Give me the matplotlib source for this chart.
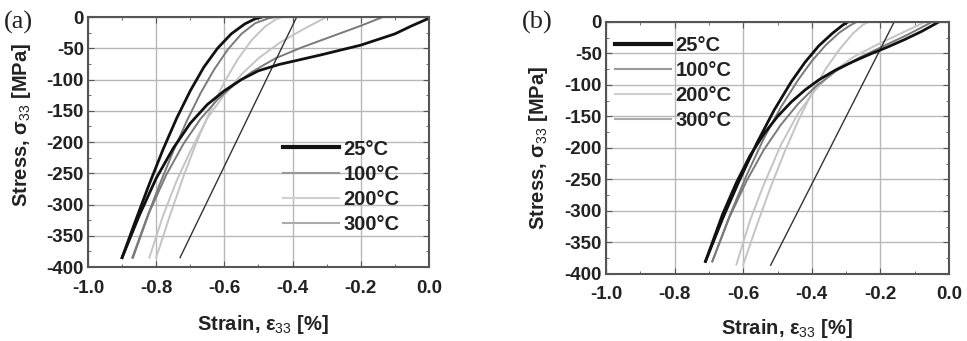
import matplotlib
matplotlib.use("Agg")
import matplotlib.pyplot as plt
from matplotlib.lines import Line2D
from matplotlib.ticker import MultipleLocator, FormatStrFormatter

plt.rcParams['font.family'] = ['Liberation Sans', 'DejaVu Sans']
plt.rcParams['mathtext.fontset'] = 'custom'
plt.rcParams['mathtext.rm'] = 'Liberation Sans'
plt.rcParams['mathtext.it'] = 'Liberation Sans'
plt.rcParams['axes.unicode_minus'] = False

temps = ['25°C', '100°C', '200°C', '300°C']

# ---- panel (a): strain [%], stress [MPa]
a25_load_x = [0.0, -0.05, -0.1, -0.2, -0.32, -0.44, -0.5, -0.55, -0.6, -0.65, -0.7, -0.75, -0.8, -0.85, -0.9]
a25_load_y = [-2, -14, -27, -45, -61, -76, -86, -100, -118, -140, -170, -210, -258, -318, -385]
a25_unl_x = [-0.9, -0.86, -0.82, -0.78, -0.74, -0.70, -0.66, -0.62, -0.58, -0.54, -0.51, -0.49]
a25_unl_y = [-385, -325, -267, -212, -162, -118, -80, -50, -27, -11, -3, 0]

a100_load_x = [-0.135, -0.2, -0.29, -0.37, -0.45, -0.52, -0.57, -0.62, -0.67, -0.72, -0.77, -0.82, -0.868]
a100_load_y = [0, -14, -32, -48, -66, -88, -108, -132, -163, -203, -252, -312, -385]
a100_unl_x = [-0.87, -0.83, -0.79, -0.75, -0.71, -0.67, -0.63, -0.59, -0.55, -0.51, -0.47, -0.45]
a100_unl_y = [-385, -325, -268, -215, -166, -122, -84, -52, -27, -10, -2, 0]

a200_load_x = [-0.30, -0.37, -0.44, -0.50, -0.55, -0.60, -0.65, -0.70, -0.74, -0.78, -0.82]
a200_load_y = [0, -20, -42, -66, -92, -124, -162, -215, -262, -318, -385]
a200_unl_x = [-0.80, -0.76, -0.72, -0.68, -0.64, -0.60, -0.56, -0.52, -0.48, -0.45, -0.43]
a200_unl_y = [-385, -318, -255, -198, -148, -104, -67, -37, -15, -4, 0]

a300_x = [-0.73, -0.388]
a300_y = [-385, 0]

# ---- panel (b)
b25_load_x = [-0.03, -0.08, -0.13, -0.18, -0.23, -0.28, -0.33, -0.38, -0.42, -0.46, -0.50, -0.54, -0.58, -0.62, -0.66, -0.71]
b25_load_y = [0, -15, -28, -40, -51, -63, -76, -92, -108, -127, -150, -178, -212, -255, -305, -380]
b25_unl_x = [-0.71, -0.66, -0.61, -0.56, -0.51, -0.46, -0.42, -0.38, -0.34, -0.31, -0.295]
b25_unl_y = [-380, -312, -250, -192, -140, -95, -64, -38, -18, -5, 0]

b100_load_x = [-0.05, -0.12, -0.19, -0.26, -0.33, -0.39, -0.44, -0.49, -0.54, -0.59, -0.64, -0.69]
b100_load_y = [0, -20, -38, -56, -78, -103, -130, -163, -203, -252, -310, -380]
b100_unl_x = [-0.69, -0.64, -0.59, -0.54, -0.49, -0.44, -0.40, -0.36, -0.32, -0.29, -0.27]
b100_unl_y = [-380, -308, -243, -185, -135, -92, -62, -37, -17, -6, 0]

b200_load_x = [-0.07, -0.14, -0.21, -0.28, -0.34, -0.39, -0.44, -0.49, -0.54, -0.58, -0.62]
b200_load_y = [0, -18, -36, -56, -80, -108, -145, -195, -258, -315, -385]
b200_unl_x = [-0.60, -0.56, -0.52, -0.48, -0.44, -0.40, -0.36, -0.32, -0.28, -0.25, -0.235]
b200_unl_y = [-385, -322, -262, -207, -157, -113, -75, -44, -18, -4, 0]

b300_x = [-0.52, -0.16]
b300_y = [-386, 0]

xticks = [-1.0, -0.8, -0.6, -0.4, -0.2, 0.0]
yticks = [0, -50, -100, -150, -200, -250, -300, -350, -400]

fig = plt.figure(figsize=(9.67, 3.41), dpi=100)
axa = fig.add_axes([0.0910, 0.2170, 0.3526, 0.7331])
axb = fig.add_axes([0.6267, 0.1965, 0.3547, 0.7390])

c25, c100, c200, c300 = '#111111', '#7a7a7a', '#c4c4c4', '#333333'
FS = 13.5


def setup(ax, ylab_xy, xlab_xy):
    ax.set_xlim(-1.0, 0.0)
    ax.set_ylim(-400, 0)
    ax.set_xticks(xticks)
    ax.set_yticks(yticks)
    ax.xaxis.set_major_formatter(FormatStrFormatter('%.1f'))
    ax.xaxis.set_minor_locator(MultipleLocator(0.1))
    ax.yaxis.set_minor_locator(MultipleLocator(25))
    ax.grid(True, which='major', color='#b8b8b8', lw=1.0)
    ax.set_axisbelow(True)
    ax.tick_params(which='both', direction='in', top=True, right=True,
                   labelsize=FS, color='#555555')
    ax.tick_params(axis='x', pad=9)
    ax.tick_params(axis='y', pad=3)
    ax.tick_params(which='major', length=4)
    ax.tick_params(which='minor', length=2.5)
    for lab in ax.get_xticklabels() + ax.get_yticklabels():
        lab.set_fontweight('bold')
        lab.set_color('#222222')
    for s in ax.spines.values():
        s.set_color('#555555')
        s.set_linewidth(1.5)
    ax.set_ylabel('Stress, σ$_{33}$ [MPa]', fontsize=14.5, fontweight='bold', color='#222222')
    ax.set_xlabel('Strain, ε$_{33}$ [%]', fontsize=14.5, fontweight='bold', color='#222222')
    ax.yaxis.set_label_coords(*ylab_xy)
    ax.xaxis.set_label_coords(*xlab_xy)


# panel (a)
axa.plot(a200_load_x, a200_load_y, color=c200, lw=1.4)
axa.plot(a200_unl_x, a200_unl_y, color=c200, lw=1.4)
axa.plot(a100_load_x, a100_load_y, color=c100, lw=1.4)
axa.plot(a100_unl_x, a100_unl_y, color=c100, lw=1.4)
axa.plot(a300_x, a300_y, color=c300, lw=1.0)
axa.plot(a25_load_x, a25_load_y, color=c25, lw=2.0)
axa.plot(a25_unl_x, a25_unl_y, color=c25, lw=2.0)

# panel (b)
axb.plot(b200_load_x, b200_load_y, color=c200, lw=1.4)
axb.plot(b200_unl_x, b200_unl_y, color=c200, lw=1.4)
axb.plot(b100_load_x, b100_load_y, color=c100, lw=1.4)
axb.plot(b100_unl_x, b100_unl_y, color=c100, lw=1.4)
axb.plot(b300_x, b300_y, color=c300, lw=1.0)
axb.plot(b25_load_x, b25_load_y, color=c25, lw=2.0)
axb.plot(b25_unl_x, b25_unl_y, color=c25, lw=2.0)

setup(axa, (-0.161, 0.57), (0.513, -0.184))
setup(axb, (-0.163, 0.50), (0.528, -0.171))

handles = [Line2D([], [], color='#111111', lw=3.0),
           Line2D([], [], color='#999999', lw=1.5),
           Line2D([], [], color='#d0d0d0', lw=1.5),
           Line2D([], [], color='#aaaaaa', lw=1.5)]
for ax, anchor in ((axa, (0.572, 0.51)), (axb, (0.026, 0.945))):
    leg = ax.legend(handles, temps, loc='upper left', bbox_to_anchor=anchor,
                    frameon=False, handlelength=2.8, handletextpad=0.2,
                    labelspacing=0.3, borderaxespad=0, borderpad=0,
                    prop={'weight': 'bold', 'size': 14.5})
    for t in leg.get_texts():
        t.set_color('#222222')

fig.text(0.004, 0.933, '(a)', fontsize=19, family='Liberation Serif', color='#222222', va='center')
fig.text(0.540, 0.935, '(b)', fontsize=19, family='Liberation Serif', color='#222222', va='center')

fig.savefig('out.png', dpi=100)
